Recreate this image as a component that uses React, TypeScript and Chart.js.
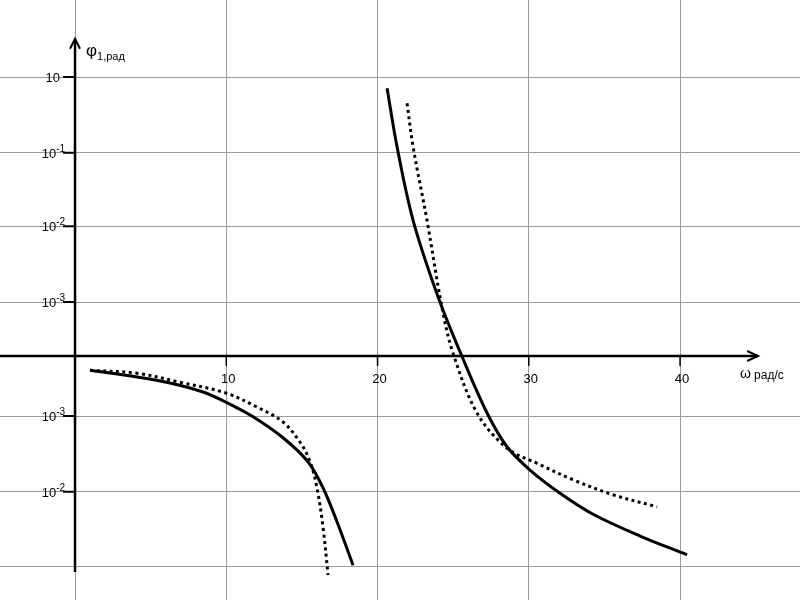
import { useEffect, useRef } from 'react';
import { Chart, registerables } from 'chart.js';

Chart.register(...registerables);

// ω (rad/s) and φ1 position (in decade units of the drawn pseudo-log axis)
const solidLeftOmega = [0.99, 4.1, 6.28, 8.46, 9.92, 11.77, 13.75, 15.4, 16.4, 17.32, 18.38];
const solidLeftPhi = [-0.19, -0.28, -0.36, -0.48, -0.61, -0.81, -1.09, -1.41, -1.76, -2.21, -2.79];

const dottedLeftOmega = [0.99, 4.1, 6.94, 9.92, 12.03, 13.75, 14.88, 15.54, 16.0, 16.4, 16.73];
const dottedLeftPhi = [-0.19, -0.23, -0.35, -0.49, -0.68, -0.88, -1.15, -1.41, -1.76, -2.29, -2.92];

const solidRightOmega = [20.63, 21.29, 22.35, 24.0, 25.59, 27.24, 28.56, 30.08, 32.07, 34.25, 37.36, 40.46];
const solidRightPhi = [3.57, 2.79, 1.81, 0.79, -0.01, -0.76, -1.21, -1.52, -1.83, -2.11, -2.4, -2.65];

const dottedRightOmega = [21.95, 22.35, 23.27, 24.26, 24.99, 26.58, 28.56, 30.54, 32.93, 35.57, 38.48];
const dottedRightPhi = [3.37, 2.79, 1.81, 0.65, 0.04, -0.76, -1.23, -1.43, -1.65, -1.85, -2.01];

const xTickValues = [0, 10, 20, 30, 40];
const xTickLabels = ['', '10', '20', '30', '40'];

const yTickValues = [3.72, 2.71, 1.73, 0.72, -0.8, -1.81, -2.81];
const yTickBase = ['10', '10', '10', '10', '10', '10', ''];
const yTickExp = ['', '-1', '-2', '-3', '-3', '-2', ''];

const X_MIN = -4.96;
const X_MAX = 47.93;
const Y_MIN = -3.253;
const Y_MAX = 4.747;
const X_ARROW = 45.16;
const Y_ARROW = 4.23;
const Y_AXIS_END = -2.88;

const zip = (xs: number[], ys: number[]) => xs.map((v, i) => ({ x: v, y: ys[i] }));

const FONT = '"Liberation Sans", Arial, sans-serif';

const axesPlugin = {
  id: 'handAxes',
  beforeDatasetsDraw(chart: any) {
    const { ctx, scales } = chart;
    const xs = scales.x;
    const ys = scales.y;
    const x0 = xs.getPixelForValue(0);
    const y0 = ys.getPixelForValue(0);
    ctx.save();
    ctx.strokeStyle = '#000';
    ctx.fillStyle = '#000';
    ctx.lineCap = 'butt';

    // x axis
    const xTip = xs.getPixelForValue(X_ARROW);
    ctx.lineWidth = 2.5;
    ctx.beginPath();
    ctx.moveTo(xs.left, y0);
    ctx.lineTo(xTip, y0);
    ctx.stroke();
    ctx.lineWidth = 2;
    ctx.beginPath();
    ctx.moveTo(xTip - 11, y0 - 5);
    ctx.lineTo(xTip, y0);
    ctx.lineTo(xTip - 11, y0 + 5);
    ctx.stroke();

    // y axis
    const yTip = ys.getPixelForValue(Y_ARROW);
    const yEnd = ys.getPixelForValue(Y_AXIS_END);
    ctx.lineWidth = 2.5;
    ctx.beginPath();
    ctx.moveTo(x0, yEnd);
    ctx.lineTo(x0, yTip);
    ctx.stroke();
    ctx.lineWidth = 2;
    ctx.beginPath();
    ctx.moveTo(x0 - 5, yTip + 10);
    ctx.lineTo(x0, yTip);
    ctx.lineTo(x0 + 5, yTip + 10);
    ctx.stroke();

    // x ticks + labels
    ctx.font = `13px ${FONT}`;
    ctx.textAlign = 'center';
    ctx.textBaseline = 'alphabetic';
    xTickValues.forEach((v, i) => {
      if (!xTickLabels[i]) return;
      const px = xs.getPixelForValue(v);
      ctx.lineWidth = 1.5;
      ctx.beginPath();
      ctx.moveTo(px, y0);
      ctx.lineTo(px, y0 + 10);
      ctx.stroke();
      ctx.fillText(xTickLabels[i], px + 2, y0 + 27);
    });

    // y ticks + labels
    yTickValues.forEach((v, i) => {
      if (!yTickBase[i]) return;
      const py = ys.getPixelForValue(v);
      ctx.lineWidth = 2;
      ctx.beginPath();
      ctx.moveTo(x0 - 12, py);
      ctx.lineTo(x0, py);
      ctx.stroke();
      ctx.textAlign = 'left';
      ctx.font = `10px ${FONT}`;
      const expW = yTickExp[i] ? ctx.measureText(yTickExp[i]).width : 0;
      ctx.font = `13px ${FONT}`;
      const baseW = ctx.measureText(yTickBase[i]).width;
      const right = yTickExp[i] ? x0 - 10 : x0 - 15;
      const bx = right - expW - baseW;
      ctx.fillText(yTickBase[i], bx, py + 5);
      if (yTickExp[i]) {
        ctx.font = `10px ${FONT}`;
        ctx.fillText(yTickExp[i], bx + baseW, py - 1);
      }
    });

    // axis titles
    ctx.textAlign = 'left';
    ctx.font = `17px ${FONT}`;
    ctx.fillText('φ', x0 + 11, yTip + 17);
    ctx.font = `11px ${FONT}`;
    ctx.fillText('1,рад', x0 + 22, yTip + 21);

    ctx.font = `14px ${FONT}`;
    ctx.fillText('ω', xTip - 18, y0 + 22);
    ctx.font = `12px ${FONT}`;
    ctx.fillText('рад/с', xTip - 4, y0 + 23);

    ctx.restore();
  },
};

export default function App() {
  const ref = useRef<HTMLCanvasElement | null>(null);

  useEffect(() => {
    if (!ref.current) return;
    const solid = {
      borderColor: '#000',
      borderWidth: 3,
      pointRadius: 0,
      tension: 0.35,
      fill: false,
    };
    const dotted = { ...solid, borderDash: [3, 3.5] };
    const chart = new Chart(ref.current, {
      type: 'line',
      data: {
        datasets: [
          { label: 'solid-left', data: zip(solidLeftOmega, solidLeftPhi), ...solid },
          { label: 'dotted-left', data: zip(dottedLeftOmega, dottedLeftPhi), ...dotted },
          { label: 'solid-right', data: zip(solidRightOmega, solidRightPhi), ...solid },
          { label: 'dotted-right', data: zip(dottedRightOmega, dottedRightPhi), ...dotted },
        ],
      },
      options: {
        responsive: false,
        animation: false,
        layout: { padding: 0 },
        plugins: { legend: { display: false }, tooltip: { enabled: false } },
        scales: {
          x: {
            type: 'linear',
            min: X_MIN,
            max: X_MAX,
            afterBuildTicks: (s: any) => {
              s.ticks = xTickValues.map((v) => ({ value: v }));
            },
            ticks: { display: false },
            border: { display: false },
            grid: { color: '#9a9a9a', lineWidth: 1, drawTicks: false },
          },
          y: {
            type: 'linear',
            min: Y_MIN,
            max: Y_MAX,
            afterBuildTicks: (s: any) => {
              s.ticks = yTickValues.map((v) => ({ value: v }));
            },
            ticks: { display: false },
            border: { display: false },
            grid: { color: '#9a9a9a', lineWidth: 1, drawTicks: false },
          },
        },
      },
      plugins: [axesPlugin],
    });
    return () => chart.destroy();
  }, []);

  return (
    <div style={{ position: 'fixed', left: 0, top: 0, width: 800, height: 600, background: '#fff' }}>
      <canvas ref={ref} width={800} height={600} />
    </div>
  );
}
